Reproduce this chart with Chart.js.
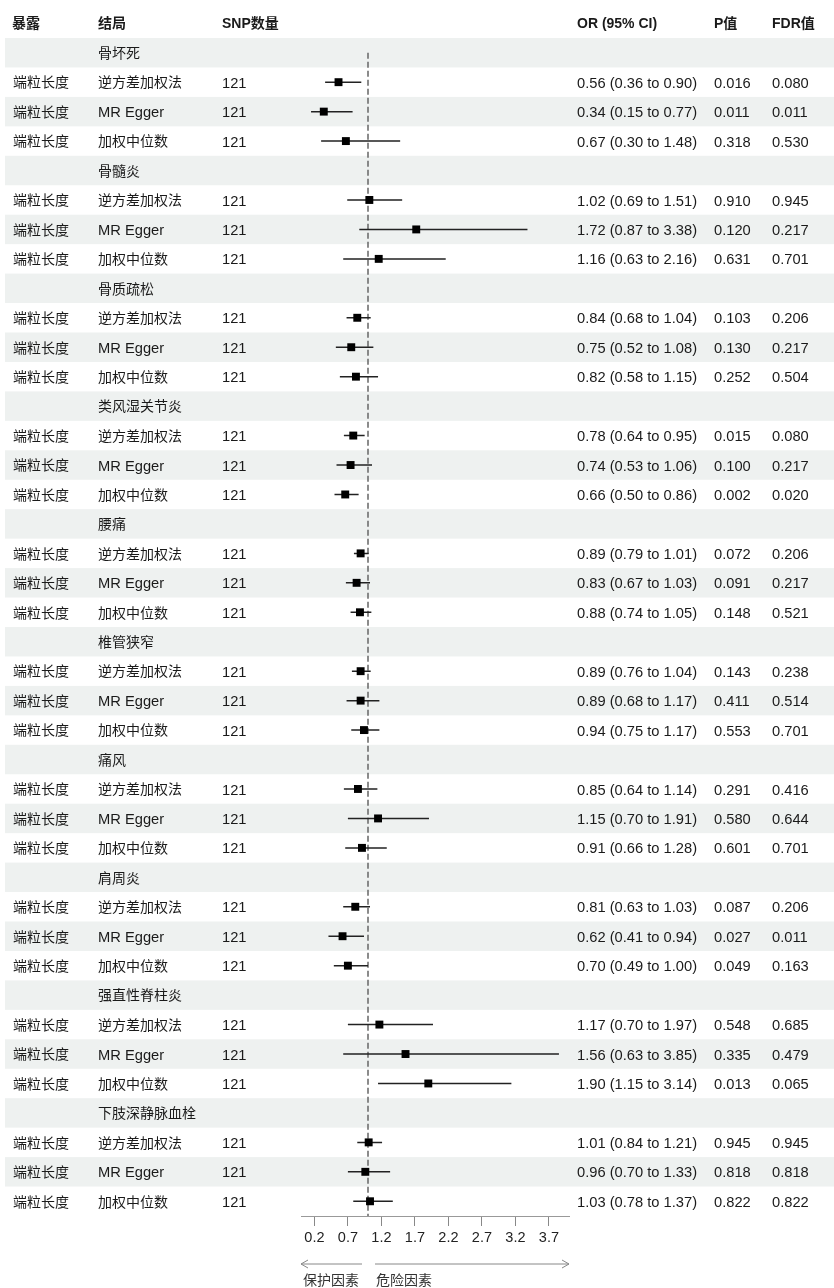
<!DOCTYPE html>
<html>
<head>
<meta charset="utf-8">
<script src="https://cdn.jsdelivr.net/npm/chart.js@4.4.0/dist/chart.umd.min.js"></script>
<style>
html,body{margin:0;padding:0;background:#fff;}
canvas{display:block;}
</style>
</head>
<body>
<canvas id="c" width="834" height="1288"></canvas>
<script>
// ---- data ----
const exposure = '端粒长度';
const groups = ['骨坏死','骨髓炎','骨质疏松','类风湿关节炎','腰痛','椎管狭窄','痛风','肩周炎','强直性脊柱炎','下肢深静脉血栓'];
const methods = ['逆方差加权法','MR Egger','加权中位数'];
const snpCount = 121;
const orValues = [0.56,0.34,0.67, 1.02,1.72,1.16, 0.84,0.75,0.82, 0.78,0.74,0.66, 0.89,0.83,0.88, 0.89,0.89,0.94, 0.85,1.15,0.91, 0.81,0.62,0.70, 1.17,1.56,1.90, 1.01,0.96,1.03];
const ciLower = [0.36,0.15,0.30, 0.69,0.87,0.63, 0.68,0.52,0.58, 0.64,0.53,0.50, 0.79,0.67,0.74, 0.76,0.68,0.75, 0.64,0.70,0.66, 0.63,0.41,0.49, 0.70,0.63,1.15, 0.84,0.70,0.78];
const ciUpper = [0.90,0.77,1.48, 1.51,3.38,2.16, 1.04,1.08,1.15, 0.95,1.06,0.86, 1.01,1.03,1.05, 1.04,1.17,1.17, 1.14,1.91,1.28, 1.03,0.94,1.00, 1.97,3.85,3.14, 1.21,1.33,1.37];
const pValues = ['0.016','0.011','0.318', '0.910','0.120','0.631', '0.103','0.130','0.252', '0.015','0.100','0.002', '0.072','0.091','0.148', '0.143','0.411','0.553', '0.291','0.580','0.601', '0.087','0.027','0.049', '0.548','0.335','0.013', '0.945','0.818','0.822'];
const fdrValues = ['0.080','0.011','0.530', '0.945','0.217','0.701', '0.206','0.217','0.504', '0.080','0.217','0.020', '0.206','0.217','0.521', '0.238','0.514','0.701', '0.416','0.644','0.701', '0.206','0.011','0.163', '0.685','0.479','0.065', '0.945','0.818','0.822'];
const xTicks = [0.2,0.7,1.2,1.7,2.2,2.7,3.2,3.7];
const headers = ['暴露','结局','SNP数量','OR (95% CI)','P值','FDR值'];
const arrowLabels = ['保护因素','危险因素'];
const refValue = 1;

// ---- build rows ----
const rows = [];
groups.forEach((g, gi) => {
  rows.push({type:'group', name:g});
  methods.forEach((m, mi) => {
    rows.push({type:'item', method:m, k:gi*3+mi});
  });
});
const nRows = rows.length;

const pointData = [], ciData = [];
rows.forEach((r, i) => {
  if (r.type === 'item') {
    pointData.push({x: orValues[r.k], y: i});
    ciData.push({x: ciLower[r.k], y: i});
    ciData.push({x: ciUpper[r.k], y: i});
    ciData.push({x: null, y: null});
  }
});

const latin = '"Liberation Sans", Arial, "Noto Sans CJK SC", sans-serif';
const cjk = '"Noto Sans CJK SC", "Liberation Sans", sans-serif';
const txt = '#1a1a1a';

function drawMixed(ctx, s, x, cy, size, bold) {
  // draws text run by run (latin vs CJK), vertically centred at cy
  const w = bold ? 'bold ' : '';
  const parts = s.match(/[\u3000-\u9fff]+|[^\u3000-\u9fff]+/g) || [];
  let px = x;
  parts.forEach(p => {
    const isCjk = /[\u3000-\u9fff]/.test(p);
    ctx.font = w + (isCjk ? 14 : size) + 'px ' + (isCjk ? cjk : latin);
    ctx.fillText(p, px, cy + (isCjk ? 5.3 : 5.6));
    px += ctx.measureText(p).width;
  });
}

const tablePlugin = {
  id: 'table',
  beforeDraw(chart) {
    const ctx = chart.ctx, y = chart.scales.y;
    ctx.save();
    ctx.fillStyle = '#fff';
    ctx.fillRect(0, 0, chart.width, chart.height);
    ctx.fillStyle = '#eef1f0';
    for (let i = 0; i < nRows; i += 2) {
      const t = y.getPixelForValue(i - 0.5), b = y.getPixelForValue(i + 0.5);
      ctx.fillRect(5, t, chart.width - 5, b - t);
    }
    ctx.restore();
  },
  afterDraw(chart) {
    const ctx = chart.ctx, y = chart.scales.y, x = chart.scales.x;
    ctx.save();
    ctx.textBaseline = 'alphabetic';
    ctx.textAlign = 'left';
    ctx.fillStyle = txt;
    const hx = [12, 98, 222, 577, 714, 772];
    headers.forEach((h, i) => drawMixed(ctx, h, hx[i], 22.5, 14, true));
    rows.forEach((r, i) => {
      const py = y.getPixelForValue(i);
      if (r.type === 'group') {
        drawMixed(ctx, r.name, 98, py, 14.7, false);
      } else {
        const k = r.k;
        drawMixed(ctx, exposure, 13, py, 14.7, false);
        drawMixed(ctx, r.method, 98, py, 14.7, false);
        drawMixed(ctx, String(snpCount), 222, py, 14.7, false);
        drawMixed(ctx, orValues[k].toFixed(2) + ' (' + ciLower[k].toFixed(2) + ' to ' + ciUpper[k].toFixed(2) + ')', 577, py, 14.7, false);
        drawMixed(ctx, pValues[k], 714, py, 14.7, false);
        drawMixed(ctx, fdrValues[k], 772, py, 14.7, false);
      }
    });
    // arrows
    const ay = 1264;
    const left = x.left, right = x.right, mid = x.getPixelForValue(refValue);
    ctx.strokeStyle = '#888';
    ctx.lineWidth = 1;
    ctx.beginPath();
    ctx.moveTo(left, ay); ctx.lineTo(mid - 6, ay);
    ctx.moveTo(left + 7, ay - 4); ctx.lineTo(left, ay); ctx.lineTo(left + 7, ay + 4);
    ctx.moveTo(mid + 7, ay); ctx.lineTo(right, ay);
    ctx.moveTo(right - 7, ay - 4); ctx.lineTo(right, ay); ctx.lineTo(right - 7, ay + 4);
    ctx.stroke();
    ctx.fillStyle = '#333';
    drawMixed(ctx, arrowLabels[0], left + 2, 1280, 14, false);
    drawMixed(ctx, arrowLabels[1], mid + 8, 1280, 14, false);
    ctx.restore();
  }
};

new Chart(document.getElementById('c'), {
  type: 'scatter',
  data: {
    datasets: [
      {
        label: 'ref',
        data: [{x: refValue, y: 0}, {x: refValue, y: nRows - 0.5}],
        showLine: true, pointRadius: 0, borderColor: '#666', borderWidth: 1.5,
        borderDash: [6, 3], order: 3
      },
      {
        label: 'ci',
        data: ciData,
        showLine: true, spanGaps: false, pointRadius: 0, borderColor: '#222', borderWidth: 1.5, order: 2
      },
      {
        label: 'or',
        data: pointData,
        pointStyle: 'rect', pointRadius: 5.6, backgroundColor: '#000', borderColor: '#000', borderWidth: 0, order: 1
      }
    ]
  },
  options: {
    responsive: false,
    animation: false,
    events: [],
    layout: { padding: { left: 301, right: 834 - 569, top: 38, bottom: 32 } },
    plugins: { legend: { display: false }, tooltip: { enabled: false } },
    scales: {
      x: {
        type: 'linear', min: 0, max: 4,
        afterBuildTicks(s) { s.ticks = xTicks.map(v => ({value: v})); },
        afterFit(s) { s.height = 40; },
        grid: { drawOnChartArea: false, drawTicks: true, tickLength: 10, color: '#888', tickWidth: 1 },
        border: { display: true, color: '#999', width: 1 },
        ticks: { color: '#222', font: { family: latin, size: 14.5 }, padding: 3, maxRotation: 0, autoSkip: false,
                 callback: v => String(v) }
      },
      y: {
        type: 'linear', min: -0.5, max: nRows - 0.5, reverse: true, display: false
      }
    }
  },
  plugins: [tablePlugin]
});
</script>
</body>
</html>
